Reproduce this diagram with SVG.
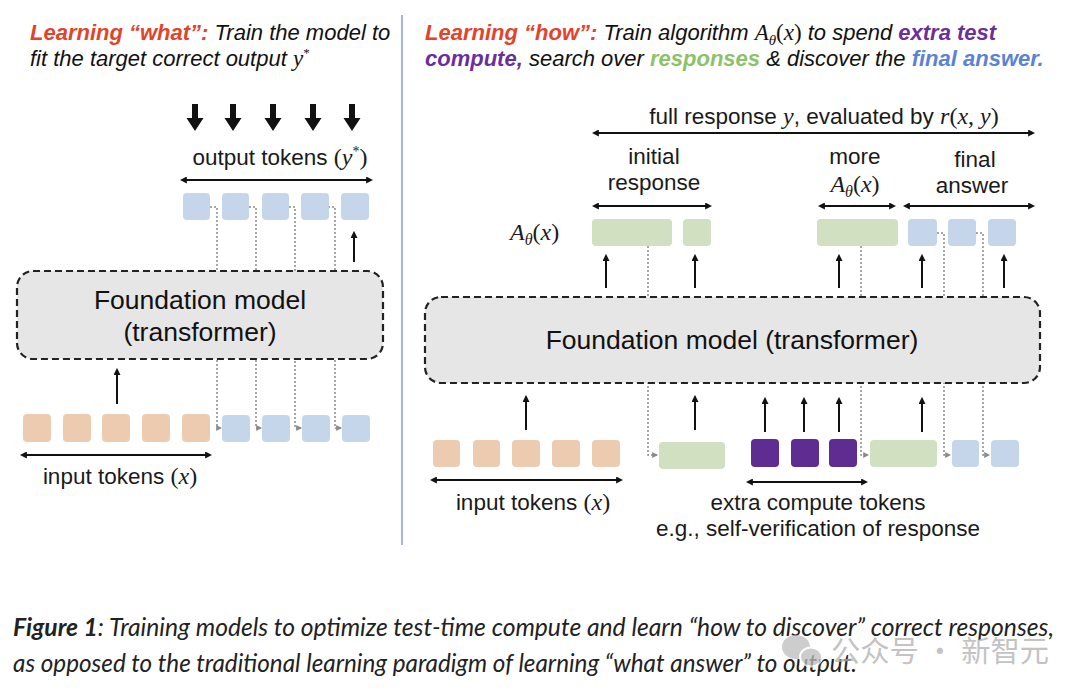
<svg xmlns="http://www.w3.org/2000/svg" width="1080" height="693" viewBox="0 0 1080 693">
<defs>
<marker id="ah" viewBox="0 0 10 10" refX="7" refY="5" markerWidth="7" markerHeight="7" markerUnits="userSpaceOnUse" orient="auto-start-reverse"><path d="M0,0 L10,5 L0,10 z" fill="#111"/></marker>
<marker id="ahg" viewBox="0 0 10 10" refX="8" refY="5" markerWidth="6" markerHeight="6" markerUnits="userSpaceOnUse" orient="auto"><path d="M0,0 L10,5 L0,10 z" fill="#8a8a8a"/></marker>
</defs>
<style>
.hdr{font-family:"Liberation Sans",Arial,sans-serif;font-size:22px;font-style:italic;fill:#111}
.b{font-weight:bold}
.red{fill:#e3432b}
.pur{fill:#6a2f9e}
.grn{fill:#8cc36a}
.blu{fill:#5a83d3}
.lbl{font-family:"Liberation Sans",Arial,sans-serif;font-size:22.5px;fill:#1a1a1a}
.fm{font-family:"Liberation Sans",Arial,sans-serif;font-size:26.5px;fill:#111}
.m{font-family:"Liberation Serif","Times New Roman",serif;font-style:italic;font-size:24px}
.mr{font-family:"Liberation Serif","Times New Roman",serif;font-style:normal;font-size:24px}
.sub{font-family:"Liberation Serif","Times New Roman",serif;font-style:italic;font-size:16px}
.sup{font-family:"Liberation Serif","Times New Roman",serif;font-style:normal;font-size:14px}
.hm{font-family:"Liberation Serif","Times New Roman",serif;font-style:italic;font-size:23px}
.hmr{font-family:"Liberation Serif","Times New Roman",serif;font-style:normal;font-size:23px}
.hsub{font-family:"Liberation Serif","Times New Roman",serif;font-style:italic;font-size:15px}
.hsup{font-family:"Liberation Serif","Times New Roman",serif;font-style:normal;font-size:13px}
.model{fill:#e6e6e6;stroke:#222;stroke-width:2.2;stroke-dasharray:7 4}
.to{fill:#edcbb0}
.tb{fill:#c6d6ea}
.tg{fill:#d0e0c0}
.tp{fill:#5f2d91}
.arr{stroke:#111;stroke-width:2;fill:none;marker-end:url(#ah)}
.dbl{stroke:#111;stroke-width:2;fill:none;marker-end:url(#ah);marker-start:url(#ah)}
.dota{stroke:#8a8a8a;stroke-width:1.5;stroke-dasharray:2 2;fill:none;marker-end:url(#ahg)}
.big{fill:#111}
.cap{font-family:Lato,"Liberation Sans",sans-serif;font-size:25px;font-style:italic;fill:#222}
</style>
<rect width="1080" height="693" fill="#ffffff"/>

<g id="header-left">
<text x="30" y="40" class="hdr"><tspan class="b red">Learning “what”:</tspan> Train the model to</text>
<text x="30" y="66" class="hdr">fit the target correct output <tspan class="hm">y</tspan><tspan class="hsup" dy="-9">*</tspan></text>
</g>
<g id="header-right">
<text x="425" y="40" class="hdr"><tspan class="b red">Learning “how”:</tspan> Train algorithm <tspan class="hm">A</tspan><tspan class="hsub" dy="5">θ</tspan><tspan class="hmr" dy="-5">(</tspan><tspan class="hm">x</tspan><tspan class="hmr">)</tspan> to spend <tspan class="b pur">extra test</tspan></text>
<text x="425" y="66" class="hdr"><tspan class="b pur">compute,</tspan> search over <tspan class="b grn">responses</tspan> &amp; discover the <tspan class="b blu">final answer.</tspan></text>
</g>
<line id="divider" x1="402" y1="15" x2="402" y2="545" stroke="#8d9fd6" stroke-width="1.5"/>

<g id="connectors">
<path class="dota" d="M210,207 H217 V428 H221"/>
<path class="dota" d="M249,207 H256 V428 H261"/>
<path class="dota" d="M289,207 H295 V428 H301"/>
<path class="dota" d="M328,207 H335 V428 H341"/>
<line class="arr" x1="354" y1="262" x2="354" y2="233"/>
<line class="arr" x1="117" y1="404" x2="117" y2="370"/>
<line class="dbl" x1="182" y1="180" x2="371" y2="180"/>
<line class="dbl" x1="22" y1="455" x2="210" y2="455"/>
<polygon class="big" points="192,104 198,104 198,118 203.5,118 195,131 186.5,118 192,118"/>
<polygon class="big" points="230,104 236,104 236,118 241.5,118 233,131 224.5,118 230,118"/>
<polygon class="big" points="270,104 276,104 276,118 281.5,118 273,131 264.5,118 270,118"/>
<polygon class="big" points="310,104 316,104 316,118 321.5,118 313,131 304.5,118 310,118"/>
<polygon class="big" points="349,104 355,104 355,118 360.5,118 352,131 343.5,118 349,118"/>

<path class="dota" d="M648,246 V455 H657"/>
<path class="dota" d="M861,246 V455 H868"/>
<path class="dota" d="M937,233 H944 V455 H950"/>
<path class="dota" d="M976,233 H983 V455 H989"/>
<line class="arr" x1="606" y1="288" x2="606" y2="256"/>
<line class="arr" x1="695" y1="288" x2="695" y2="256"/>
<line class="arr" x1="839" y1="288" x2="839" y2="256"/>
<line class="arr" x1="922" y1="288" x2="922" y2="256"/>
<line class="arr" x1="1004" y1="288" x2="1004" y2="256"/>
<line class="arr" x1="526" y1="430" x2="526" y2="397"/>
<line class="arr" x1="695" y1="430" x2="695" y2="397"/>
<line class="arr" x1="765" y1="432" x2="765" y2="399"/>
<line class="arr" x1="804" y1="432" x2="804" y2="399"/>
<line class="arr" x1="839" y1="432" x2="839" y2="399"/>
<line class="arr" x1="922" y1="432" x2="922" y2="399"/>
<line class="dbl" x1="594" y1="133" x2="1033" y2="133"/>
<line class="dbl" x1="594" y1="206" x2="710" y2="206"/>
<line class="dbl" x1="820" y1="206" x2="894" y2="206"/>
<line class="dbl" x1="905" y1="206" x2="1033" y2="206"/>
<line class="dbl" x1="432" y1="480" x2="621" y2="480"/>
<line class="dbl" x1="748" y1="482" x2="866" y2="482"/>
</g>

<g id="left-model">
<rect class="model" x="17" y="271" width="366" height="88" rx="16"/>
<text class="fm" x="200" y="309" text-anchor="middle">Foundation model</text>
<text class="fm" x="200" y="341" text-anchor="middle">(transformer)</text>
</g>
<g id="left-output-tokens">
<rect class="tb" x="183" y="193" width="27" height="27" rx="4"/>
<rect class="tb" x="222" y="193" width="27" height="27" rx="4"/>
<rect class="tb" x="262" y="193" width="27" height="27" rx="4"/>
<rect class="tb" x="301" y="193" width="28" height="27" rx="4"/>
<rect class="tb" x="341" y="193" width="28" height="27" rx="4"/>
<text class="lbl" x="280" y="165" text-anchor="middle">output tokens <tspan class="mr">(</tspan><tspan class="m">y</tspan><tspan class="sup" dy="-9">*</tspan><tspan class="mr" dy="9">)</tspan></text>
</g>
<g id="left-input-tokens">
<rect class="to" x="23" y="414" width="28" height="28" rx="4"/>
<rect class="to" x="63" y="414" width="28" height="28" rx="4"/>
<rect class="to" x="102" y="414" width="28" height="28" rx="4"/>
<rect class="to" x="142" y="414" width="28" height="28" rx="4"/>
<rect class="to" x="182" y="414" width="28" height="28" rx="4"/>
<rect class="tb" x="222" y="415" width="28" height="27" rx="4"/>
<rect class="tb" x="262" y="415" width="28" height="27" rx="4"/>
<rect class="tb" x="302" y="415" width="28" height="27" rx="4"/>
<rect class="tb" x="342" y="415" width="28" height="27" rx="4"/>
<text class="lbl" x="120" y="484" text-anchor="middle">input tokens <tspan class="mr">(</tspan><tspan class="m">x</tspan><tspan class="mr">)</tspan></text>
</g>

<g id="right-model">
<rect class="model" x="425" y="297" width="615" height="86" rx="16"/>
<text class="fm" x="732" y="349" text-anchor="middle">Foundation model (transformer)</text>
</g>
<g id="right-labels">
<text class="lbl" x="824" y="124" text-anchor="middle">full response <tspan class="m">y</tspan>, evaluated by <tspan class="m">r</tspan><tspan class="mr">(</tspan><tspan class="m">x</tspan><tspan class="mr">, </tspan><tspan class="m">y</tspan><tspan class="mr">)</tspan></text>
<text class="lbl" x="654" y="164" text-anchor="middle">initial</text>
<text class="lbl" x="654" y="190" text-anchor="middle">response</text>
<text class="lbl" x="855" y="164" text-anchor="middle">more</text>
<text class="lbl" x="855" y="192" text-anchor="middle"><tspan class="m">A</tspan><tspan class="sub" dy="5">θ</tspan><tspan class="mr" dy="-5">(</tspan><tspan class="m">x</tspan><tspan class="mr">)</tspan></text>
<text class="lbl" x="975" y="167" text-anchor="middle">final</text>
<text class="lbl" x="972" y="193" text-anchor="middle">answer</text>
<text class="lbl" x="510" y="240"><tspan class="m">A</tspan><tspan class="sub" dy="5">θ</tspan><tspan class="mr" dy="-5">(</tspan><tspan class="m">x</tspan><tspan class="mr">)</tspan></text>
</g>
<g id="right-output-tokens">
<rect class="tg" x="592" y="219" width="80" height="27" rx="4"/>
<rect class="tg" x="683" y="219" width="28" height="27" rx="4"/>
<rect class="tg" x="817" y="219" width="81" height="27" rx="4"/>
<rect class="tb" x="908" y="219" width="29" height="27" rx="4"/>
<rect class="tb" x="948" y="219" width="28" height="27" rx="4"/>
<rect class="tb" x="988" y="219" width="28" height="27" rx="4"/>
</g>
<g id="right-input-tokens">
<rect class="to" x="433" y="440" width="27" height="27" rx="4"/>
<rect class="to" x="473" y="440" width="27" height="27" rx="4"/>
<rect class="to" x="512" y="440" width="28" height="27" rx="4"/>
<rect class="to" x="552" y="440" width="28" height="27" rx="4"/>
<rect class="to" x="592" y="440" width="28" height="27" rx="4"/>
<text class="lbl" x="533" y="510" text-anchor="middle">input tokens <tspan class="mr">(</tspan><tspan class="m">x</tspan><tspan class="mr">)</tspan></text>
</g>
<g id="right-extra-tokens">
<rect class="tg" x="659" y="442" width="66" height="27" rx="4"/>
<rect class="tp" x="751" y="439" width="28" height="28" rx="4"/>
<rect class="tp" x="791" y="439" width="28" height="28" rx="4"/>
<rect class="tp" x="829" y="439" width="28" height="28" rx="4"/>
<rect class="tg" x="870" y="440" width="67" height="27" rx="4"/>
<rect class="tb" x="952" y="440" width="27" height="27" rx="4"/>
<rect class="tb" x="991" y="440" width="28" height="27" rx="4"/>
<text class="lbl" x="818" y="510" text-anchor="middle">extra compute tokens</text>
<text class="lbl" x="818" y="536" text-anchor="middle">e.g., self-verification of response</text>
</g>

<g id="caption">
<text class="cap" x="13" y="636" textLength="1041" lengthAdjust="spacingAndGlyphs"><tspan font-weight="bold">Figure 1</tspan>: Training models to optimize test-time compute and learn “how to discover” correct responses,</text>
<text class="cap" x="13" y="672" textLength="844" lengthAdjust="spacingAndGlyphs">as opposed to the traditional learning paradigm of learning “what answer” to output.</text>
</g>

<g id="watermark" opacity="0.75">
<ellipse cx="796" cy="647" rx="14" ry="12" fill="#bdbdbd"/>
<ellipse cx="811" cy="657" rx="11" ry="9.5" fill="#bdbdbd" stroke="#ffffff" stroke-width="2"/>
<text x="831" y="662" font-family="'Noto Sans CJK SC',sans-serif" font-size="29" fill="#b0b0b0" textLength="218" lengthAdjust="spacingAndGlyphs">公众号 · 新智元</text>
</g>
</svg>
